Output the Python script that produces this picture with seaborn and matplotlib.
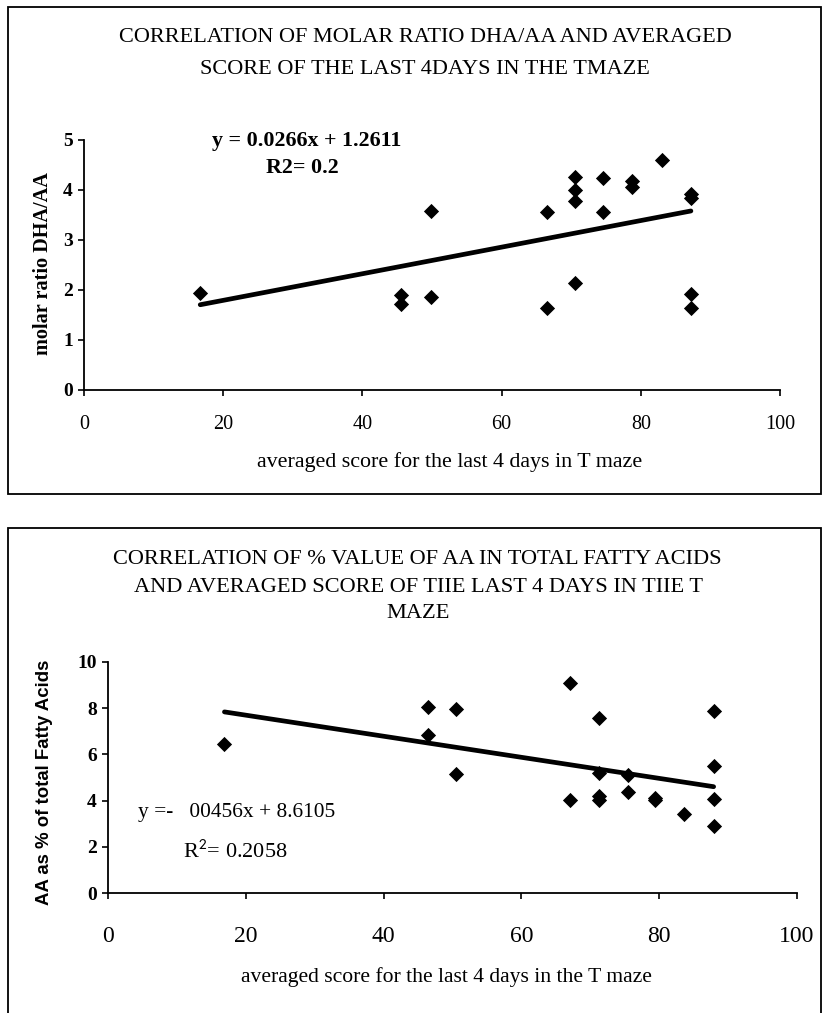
import numpy as np
import pandas as pd
import matplotlib.pyplot as plt
import seaborn as sns
from matplotlib.patches import Rectangle

# ------------------------------------------------------------
# data
# ------------------------------------------------------------

# top: molar ratio DHA/AA vs averaged T maze score
score_top = [16.7, 45.5, 45.5, 49.9, 49.9, 66.5, 66.5, 70.6, 70.6, 70.6, 70.6,
             74.5, 74.5, 78.8, 78.8, 83.0, 87.2, 87.2, 87.2, 87.2]
ratio_dha_aa = [1.93, 1.90, 1.72, 3.57, 1.85, 3.55, 1.63, 4.25, 4.00, 3.78, 2.13,
                4.23, 3.55, 4.17, 4.05, 4.59, 3.91, 3.83, 1.91, 1.63]
slope_top, icept_top = 0.0266, 1.2611

# bottom: AA as % of total fatty acids vs averaged T maze score
score_bot = [16.9, 46.4, 46.4, 50.5, 50.5, 67.0, 67.0, 71.2, 71.2, 71.2, 71.2,
             75.4, 75.4, 79.4, 79.4, 83.6, 87.9, 87.9, 87.9, 87.9]
aa_pct = [6.45, 8.04, 6.82, 7.97, 5.14, 9.08, 4.03, 7.57, 5.21, 4.18, 4.03,
          5.11, 4.37, 4.10, 4.03, 3.43, 7.90, 5.50, 4.06, 2.88]
slope_bot, icept_bot = -0.0456, 8.6105

top = pd.DataFrame({"score": score_top, "val": ratio_dha_aa})
bot = pd.DataFrame({"score": score_bot, "val": aa_pct})

sns.set_style("white")
plt.rcParams['font.family'] = ['Liberation Serif', 'DejaVu Serif']
plt.rcParams['mathtext.fontset'] = 'stix'
# seaborn greys the text, the scan is plain black
plt.rcParams['text.color'] = 'black'
plt.rcParams['xtick.color'] = 'black'
plt.rcParams['ytick.color'] = 'black'
plt.rcParams['axes.labelcolor'] = 'black'

W, H = 823, 1013
fig = plt.figure(figsize=(W / 100, H / 100), dpi=100)


def px_axes(l, t, r, b):
    return fig.add_axes([l / W, 1 - b / H, (r - l) / W, (b - t) / H])


def ftext(x, y, s, **kw):
    fig.text(x / W, 1 - y / H, s, ha="center", va="center", **kw)


# chart area borders
fig.patches.append(Rectangle((8 / W, 1 - 494 / H), 813 / W, 487 / H, transform=fig.transFigure,
                             fill=False, edgecolor="black", linewidth=1.3))
fig.patches.append(Rectangle((8 / W, -0.05), 813 / W, 1 - 528 / H + 0.05, transform=fig.transFigure,
                             fill=False, edgecolor="black", linewidth=1.3))


def draw(ax, df, slope, icept, ymax, ystep, xtsize, xpad):
    sns.scatterplot(data=df, x="score", y="val", marker="D", s=60, color="black",
                    edgecolor="black", linewidth=0, ax=ax, zorder=3)
    xs = np.array([df["score"].min(), df["score"].max()])
    line = pd.DataFrame({"score": xs, "val": slope * xs + icept})
    sns.lineplot(data=line, x="score", y="val", color="black", linewidth=3.4, ax=ax)
    ax.set_xlim(0, 100)
    ax.set_ylim(0, ymax)
    ax.set_xticks(range(0, 101, 20))
    ax.set_yticks(np.arange(0, ymax + 0.1, ystep))
    ax.set_xlabel("")
    ax.set_ylabel("")
    sns.despine(ax=ax)
    for sp in ax.spines.values():
        sp.set_linewidth(1.3)
        sp.set_color("black")
    ax.tick_params(axis="x", direction="out", length=4, width=1.2, pad=xpad,
                   labelsize=xtsize, bottom=True, colors="black")
    ax.tick_params(axis="y", direction="out", length=4, width=1.2, pad=4,
                   labelsize=14, left=True, colors="black")
    for lab in ax.get_yticklabels():
        lab.set_fontweight("bold")


# ---------------- top chart ----------------
ax1 = px_axes(84, 140, 780, 390)
draw(ax1, top, slope_top, icept_top, 5, 1, 14.5, 14)
ftext(425, 38, "CORRELATION OF MOLAR RATIO DHA/AA AND AVERAGED", fontsize=16)
ftext(425, 70, "SCORE OF THE LAST 4DAYS IN THE TMAZE", fontsize=16)
ftext(307, 141, "y = 0.0266x + 1.2611", fontsize=15.8, fontweight="bold")
ftext(302, 168, "R2= 0.2", fontsize=15.8, fontweight="bold")
ftext(450, 462, "averaged score for the last 4 days in T maze", fontsize=15.8)
fig.text(43 / W, 1 - 264 / H, "molar ratio DHA/AA", rotation=90, ha="center",
         va="center", fontsize=14.6, fontweight="bold")

# ---------------- bottom chart ----------------
ax2 = px_axes(108, 662, 797, 893)
draw(ax2, bot, slope_bot, icept_bot, 10, 2, 17, 20)
ftext(417, 560, "CORRELATION OF % VALUE OF AA IN TOTAL FATTY ACIDS", fontsize=16.1)
ftext(419, 587, "AND AVERAGED SCORE OF TIIE LAST 4 DAYS IN TIIE T", fontsize=16.1)
ftext(418, 613, "MAZE", fontsize=16.1)
fig.text(138 / W, 1 - 813 / H, "y =-   00456x + 8.6105", ha="left", va="center",
         fontsize=15.4)
fig.text(183 / W, 1 - 852 / H, "R$^{\\mathsf{2}}$= 0.2058", ha="left", va="center", fontsize=16)
ftext(446, 977, "averaged score for the last 4 days in the T maze", fontsize=15.6)
fig.text(45 / W, 1 - 782 / H, "AA as % of total Fatty Acids", rotation=90, ha="center",
         va="center", fontsize=13.4, fontweight="bold", family=["Liberation Sans", "DejaVu Sans"])

fig.savefig("out.png", dpi=100)
